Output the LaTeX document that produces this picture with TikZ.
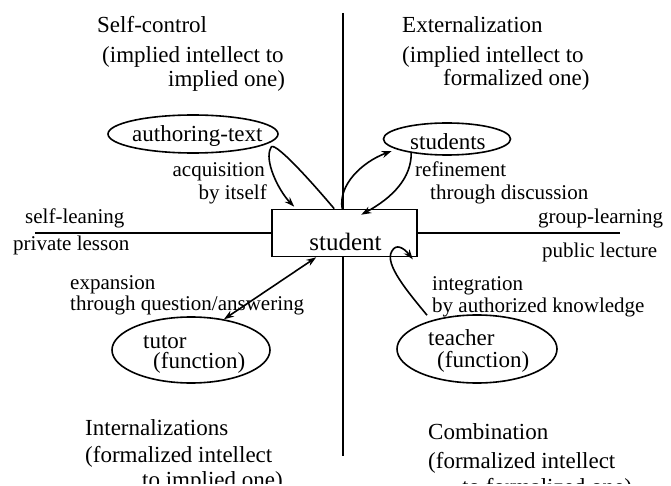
\documentclass[tikz,border=0pt]{standalone}
\usepackage{fontspec}
\setmainfont{Liberation Serif}
\usetikzlibrary{arrows.meta,shapes.geometric,calc}
\begin{document}
\begin{tikzpicture}[x=1pt,y=-1pt,
  hd/.style={font=\fontsize{23}{23}\selectfont, inner sep=0pt, anchor=base west},
  lb/.style={font=\fontsize{21}{21}\selectfont, inner sep=0pt, anchor=base west},
  lbr/.style={lb, anchor=base east},
  ell/.style={draw, ellipse, line width=1.6pt, inner sep=0pt},
  ln/.style={line width=1.6pt},
  tip/.tip={Stealth[length=10pt,width=7pt]},
  arr/.style={line width=1.6pt, -tip},
  darr/.style={line width=1.6pt, tip-tip},
]
\useasboundingbox (0,0) rectangle (671,486);
\clip (0,0) rectangle (671,483);

% axes
\draw[ln] (343,13) -- (343,456);
\node[draw, line width=1.6pt, fill=white, minimum width=145pt, minimum height=47pt, inner sep=0pt] (st) at (344.5,233) {};
\node[font=\fontsize{25}{25}\selectfont, inner sep=0pt, anchor=base] (stl) at (345.5,250) {student};
\draw[ln] (35,233) -- (st.west);
\draw[ln] (st.east) -- (620,233);

% ellipses
\node[ell, minimum width=170pt, minimum height=38pt] (au) at (193,134) {};
\node[ell, minimum width=127pt, minimum height=32pt] (ss) at (447,139) {};
\node[ell, minimum width=158pt, minimum height=66pt] (tu) at (191,350) {};
\node[ell, minimum width=160pt, minimum height=68pt] (te) at (477,349) {};

\node[hd] (aut) at (132,142) {authoring-text};
\node[hd] (sst) at (410,150) {students};
\node[hd] (tut1) at (143,348) {tutor};
\node[hd] (tut2) at (153,368) {(function)};
\node[hd] (tet1) at (428,345) {teacher};
\node[hd] (tet2) at (437,367) {(function)};

% quadrant titles
\node[hd] (t1a) at (97,33) {Self-control};
\node[hd] (t1b) at (102,63) {(implied intellect to};
\node[hd] (t1c) at (168,87) {implied one)};
\node[hd] (t2a) at (402,33) {Externalization};
\node[hd] (t2b) at (402,63) {(implied intellect to};
\node[hd] (t2c) at (443,86) {formalized one)};
\node[hd] (t3a) at (85,435) {Internalizations};
\node[hd] (t3b) at (85,462) {(formalized intellect};
\node[hd] (t3c) at (142,487) {to implied one)};
\node[hd] (t4a) at (428,439) {Combination};
\node[hd] (t4b) at (428,468) {(formalized intellect};
\node[hd] (t4c) at (462,494) {to formalized one)};

% labels
\node[lbr] (l1a) at (265,177) {acquisition};
\node[lbr] (l1b) at (267,200) {by itself};
\node[lb] (l2a) at (415,177) {refinement};
\node[lb] (l2b) at (430,200) {through discussion};
\node[lb] (l3a) at (25,223) {self-leaning};
\node[lb] (l3b) at (13,250) {private lesson};
\node[lb] (l4a) at (538,224) {group-learning};
\node[lb] (l4b) at (542,257) {public lecture};
\node[lb] (l5a) at (70,289) {expansion};
\node[lb] (l5b) at (70,310) {through question/answering};
\node[lb] (l6a) at (432,290) {integration};
\node[lb] (l6b) at (432,312) {by authorized knowledge};

% connectors
\draw[arr] ($(st.north west)+(63,0)$) .. controls (310,180) and (272,138) .. ($(au.east)+(-8,14)$)
  .. controls (264,160) and (278,190) .. ($(st.north west)+(23,-2)$);
\draw[arr] ($(st.north west)+(71,0)$) .. controls (338,185) and (362,162) .. ($(ss.west)+(9,12)$);
\draw[arr] ($(ss.west)+(28.5,13)$) .. controls (412,178) and (392,198) .. ($(st.north west)+(90,6)$);
\draw[darr] (tu.43) -- ($(st.south west)+(45,0)$);
\draw[arr] ($(te.north)+(-50,1)$) .. controls (408,292) and (384,264) .. ($(st.south east)+(-26,-6)$)
  .. controls (396,243) and (404,248) .. ($(st.south east)+(-5,2)$);
\end{tikzpicture}
\end{document}
